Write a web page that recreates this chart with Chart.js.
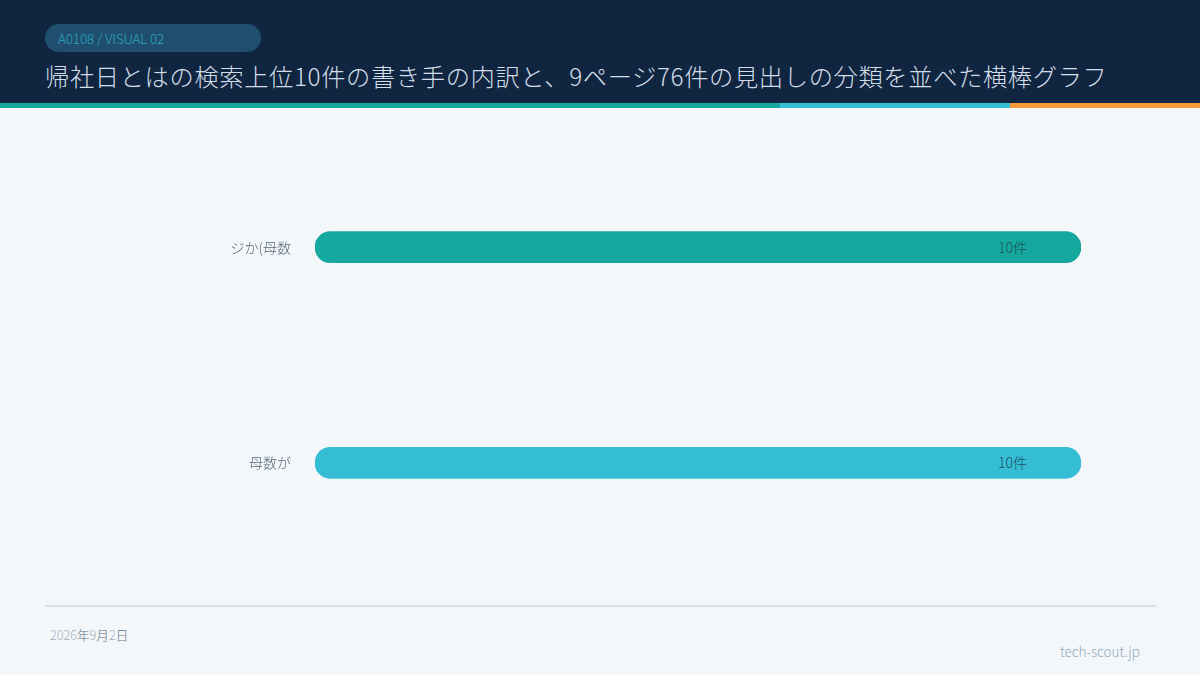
<!DOCTYPE html>
<html lang="ja">
<head>
<meta charset="utf-8">
<script src="https://cdn.jsdelivr.net/npm/chart.js@4.4.1/dist/chart.umd.min.js"></script>
<style>
  html,body{margin:0;padding:0;}
  body{width:1200px;height:675px;position:relative;overflow:hidden;background:#f3f7fa;font-family:"Noto Sans CJK JP","Noto Sans",sans-serif;font-weight:300;}
  #header{position:absolute;left:0;top:0;width:1200px;height:103px;background:#0f2540;}
  #pill{position:absolute;left:45px;top:24px;width:216px;height:28px;border-radius:14px;background:#1f4e6e;color:#2ea6bd;font-size:13.5px;line-height:28px;box-sizing:border-box;padding-left:13px;letter-spacing:-0.15px;font-weight:200;}
  #title{position:absolute;left:45px;top:58px;color:#d3dee8;font-size:24.3px;line-height:36px;white-space:nowrap;font-weight:200;letter-spacing:0.6px;}
  .stripe{position:absolute;top:103px;height:5px;}
  #c{position:absolute;left:0;top:106.6px;}
  #rule{position:absolute;left:45px;top:605px;width:1111px;height:2px;background:#d5dfe6;}
  #date{position:absolute;left:50px;top:626px;font-size:12.6px;line-height:18px;}
  #date .n{color:#a3afba;}
  #date .k{color:#5d7288;}
  #site{position:absolute;left:1060px;top:640px;font-size:13.5px;line-height:22px;color:#8faabb;}
</style>
</head>
<body>
<div id="header">
  <div id="pill">A0108 / VISUAL 02</div>
  <div id="title">帰社日とはの検索上位10件の書き手の内訳と、9ページ76件の見出しの分類を並べた横棒グラフ</div>
</div>
<div class="stripe" style="left:0;width:780px;background:#15a89f;"></div>
<div class="stripe" style="left:780px;width:230px;background:#36bdd6;"></div>
<div class="stripe" style="left:1010px;width:190px;background:#f59a3a;"></div>
<canvas id="c" width="1200" height="496" style="width:1200px;height:496px;"></canvas>
<div id="rule"></div>
<div id="date"><span class="n">2026</span><span class="k">年</span><span class="n">9</span><span class="k">月</span><span class="n">2</span><span class="k">日</span></div>
<div id="site">tech-scout.jp</div>
<script>
const categories = ["ジか(母数", "母数が"];
const values = [10, 10];
const valueLabels = ["10件", "10件"];
const barColors = ["#15a89f", "#36bdd6"];

const valueLabelPlugin = {
  id: "valueLabels",
  afterDatasetsDraw(chart) {
    const ctx = chart.ctx;
    const meta = chart.getDatasetMeta(0);
    ctx.save();
    ctx.font = "300 14px 'Noto Sans CJK JP', sans-serif";
    ctx.fillStyle = "#1e4d5c";
    ctx.textAlign = "right";
    ctx.textBaseline = "middle";
    meta.data.forEach((bar, i) => {
      ctx.fillText(valueLabels[i], bar.x - 54, bar.y);
    });
    ctx.restore();
  }
};

new Chart(document.getElementById("c"), {
  type: "bar",
  data: {
    labels: categories,
    datasets: [{
      data: values,
      backgroundColor: barColors,
      borderRadius: 16,
      borderSkipped: false,
      barThickness: 31
    }]
  },
  options: {
    indexAxis: "y",
    responsive: false,
    maintainAspectRatio: false,
    animation: false,
    devicePixelRatio: 1,
    layout: { padding: { left: 0, right: 119, top: 0, bottom: 0 } },
    plugins: { legend: { display: false }, tooltip: { enabled: false } },
    scales: {
      x: { display: false, min: 0, max: 10 },
      y: {
        grid: { display: false, drawTicks: false },
        border: { display: false },
        ticks: {
          padding: 24,
          color: "#56687a",
          font: { family: "'Noto Sans CJK JP', sans-serif", size: 14, weight: 300 }
        },
        afterFit(scale) { scale.width = 315; }
      }
    }
  },
  plugins: [valueLabelPlugin]
});
</script>
</body>
</html>
